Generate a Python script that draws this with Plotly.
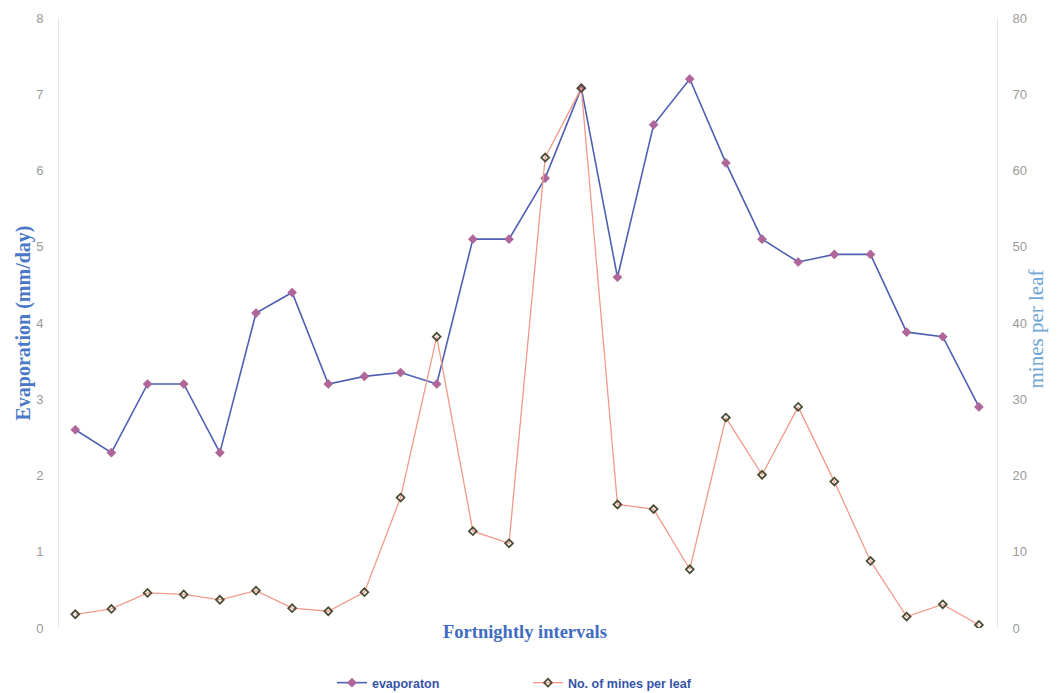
import plotly.graph_objects as go

# Fortnightly sampling intervals (26 observations)
intervals = list(range(1, 27))

# Evaporation (mm/day), left axis
evaporation = [2.6, 2.3, 3.2, 3.2, 2.3, 4.13, 4.4, 3.2, 3.3, 3.35, 3.2, 5.1, 5.1,
               5.9, 7.08, 4.6, 6.6, 7.2, 6.1, 5.1, 4.8, 4.9, 4.9, 3.88, 3.82, 2.9]

# Number of mines per leaf, right axis
mines_per_leaf = [1.8, 2.5, 4.6, 4.4, 3.7, 4.9, 2.6, 2.2, 4.7, 17.1, 38.2, 12.7, 11.1,
                  61.7, 70.8, 16.2, 15.6, 7.7, 27.6, 20.1, 29.0, 19.2, 8.8, 1.5, 3.1, 0.4]

left_ticks = [0, 1, 2, 3, 4, 5, 6, 7, 8]
right_ticks = [0, 10, 20, 30, 40, 50, 60, 70, 80]

x_pos = [i - 1 for i in intervals]

fig = go.Figure()

fig.add_trace(go.Scatter(
    x=x_pos, y=evaporation, name="evaporaton", mode="lines+markers",
    line=dict(color="#4f5fb3", width=1.6),
    marker=dict(symbol="diamond", size=7, color="#b0669a",
                line=dict(color="#9a5a8a", width=0.5)),
    yaxis="y",
))

fig.add_trace(go.Scatter(
    x=x_pos, y=mines_per_leaf, name="No. of mines per leaf", mode="lines+markers",
    line=dict(color="#f29a88", width=1.3),
    marker=dict(symbol="diamond-open", size=6, color="#4d4d35",
                line=dict(color="#4d4d35", width=1.8)),
    yaxis="y2",
))

tick_font = dict(family="Liberation Sans, Arial, sans-serif", size=13, color="#9a9a9a")
serif = "Liberation Serif, Times New Roman, serif"

fig.update_layout(
    width=1062, height=693,
    margin=dict(l=59, r=65, t=18, b=65, autoexpand=False),
    paper_bgcolor="white", plot_bgcolor="white",
    xaxis=dict(range=[-0.45, 25.5], showticklabels=False, ticks="",
               showgrid=False, zeroline=False, showline=False),
    yaxis=dict(range=[0, 8], tickvals=left_ticks, showgrid=False, zeroline=False,
               showline=True, linecolor="#e6e6e6", linewidth=1, ticks="",
               tickfont=tick_font, ticklabelstandoff=12,
               title=dict(text="Evaporation (mm/day)", standoff=0,
                          font=dict(family=serif, size=20, color="#4a78c8",
                                    weight="bold"))),
    yaxis2=dict(range=[0, 80], tickvals=right_ticks, overlaying="y", side="right",
                showgrid=False, zeroline=False, showline=True, linecolor="#e6e6e6",
                linewidth=1, ticks="", tickfont=tick_font, ticklabelstandoff=12),
    legend=dict(orientation="h", x=0.291, xanchor="left",
                yref="container", y=0.0144, yanchor="middle",
                font=dict(family="Liberation Sans, Arial, sans-serif", size=12.5,
                          color="#3653a8", weight="bold"),
                entrywidth=151, entrywidthmode="pixels", bgcolor="rgba(0,0,0,0)"),
    annotations=[
        dict(text="Fortnightly intervals", xref="paper", yref="paper",
             x=0.497, y=-0.007, xanchor="center", yanchor="middle", showarrow=False,
             font=dict(family=serif, size=18.5, color="#3f6cc0", weight="bold")),
        # right-axis title, set close to the tick labels
        dict(text="mines per leaf", xref="paper", yref="paper",
             x=1.042, y=0.49, xanchor="center", yanchor="middle", showarrow=False,
             textangle=-90,
             font=dict(family=serif, size=21, color="#6fa6d8")),
    ],
)

fig.write_html("out.html")
